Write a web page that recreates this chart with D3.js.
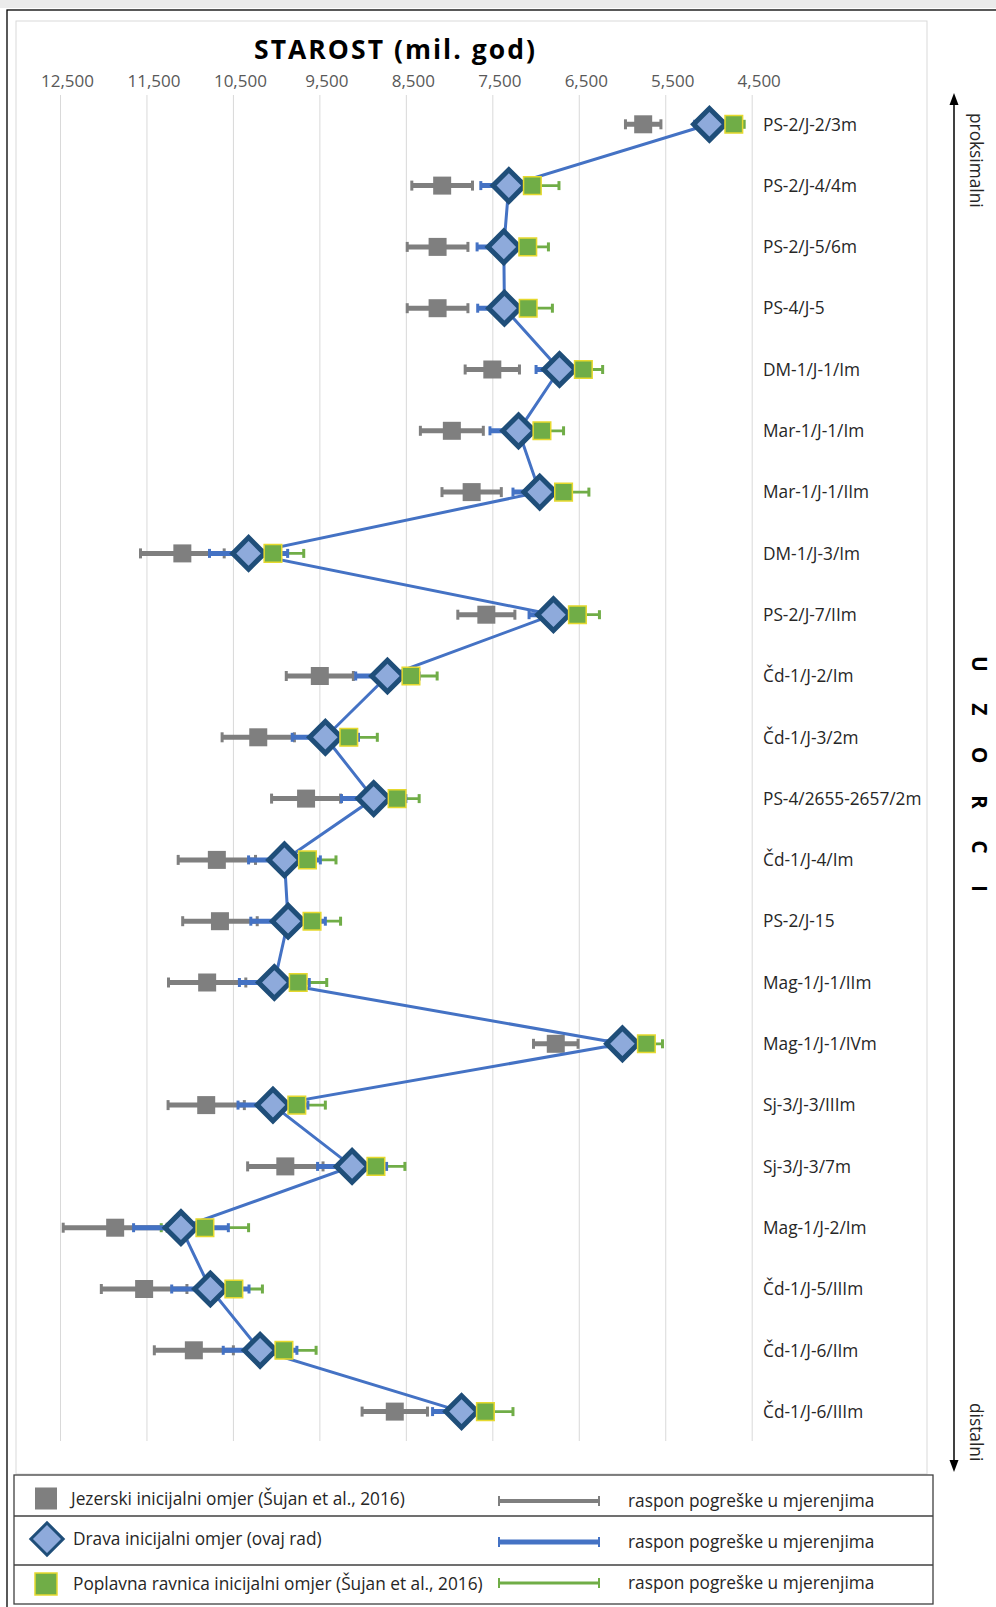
<!DOCTYPE html>
<html><head><meta charset="utf-8">
<script src="https://cdn.jsdelivr.net/npm/d3@7"></script>
<style>
html,body{margin:0;padding:0;background:#fff;}
svg{display:block;font-family:"Open Sans",sans-serif;}
</style></head>
<body>
<script>
// ---------- DATA ----------
const categories = ["PS-2/J-2/3m","PS-2/J-4/4m","PS-2/J-5/6m","PS-4/J-5","DM-1/J-1/Im","Mar-1/J-1/Im","Mar-1/J-1/IIm","DM-1/J-3/Im","PS-2/J-7/IIm","Čd-1/J-2/Im","Čd-1/J-3/2m","PS-4/2655-2657/2m","Čd-1/J-4/Im","PS-2/J-15","Mag-1/J-1/IIm","Mag-1/J-1/IVm","Sj-3/J-3/IIIm","Sj-3/J-3/7m","Mag-1/J-2/Im","Čd-1/J-5/IIIm","Čd-1/J-6/IIm","Čd-1/J-6/IIIm"];
// Jezerski inicijalni omjer (lake)
const lakeAge = [5755,8080,8133,8133,7500,7968,7739,11085,7569,9495,10207,9654,10686,10650,10798,6766,10809,9894,11862,11527,10952,8628];
const lakeErr = [205,351,351,351,314,364,343,484,330,388,418,399,447,431,447,258,441,436,601,495,457,378];
// Drava inicijalni omjer (ovaj rad)
const dravaAge = [4989,7309,7367,7360,6723,7197,6952,10319,6793,8713,9431,8872,9904,9862,10021,5995,10037,9122,11101,10761,10186,7856];
const dravaErr = [170,324,309,309,271,330,309,452,282,367,383,372,415,431,404,180,404,399,548,447,426,335];
// Poplavna ravnica inicijalni omjer (floodplain)
const floodAge = [4707,7037,7090,7085,6447,6926,6676,10037,6516,8441,9160,8601,9638,9585,9745,5718,9761,8846,10824,10489,9910,7580];
const floodErr = [120,308,239,280,223,250,293,356,255,303,330,255,330,330,330,186,330,335,505,330,372,319];
const tickValues = [12500,11500,10500,9500,8500,7500,6500,5500,4500];
const titleText = "STAROST (mil. god)";
const sideTitle = "U Z O R C I";
const topLabel = "proksimalni", bottomLabel = "distalni";
const legendLabels = ["Jezerski inicijalni omjer (Šujan et al., 2016)","Drava inicijalni omjer (ovaj rad)","Poplavna ravnica inicijalni omjer (Šujan et al., 2016)"];
const errLabel = "raspon pogreške u mjerenjima";

// ---------- STYLE ----------
const C = {gray:"#7f7f7f", blue:"#4472c4", dFill:"#8eaadb", dStroke:"#1f4e79", green:"#70ad47", gStroke:"#e6d92e", grid:"#d9d9d9", text:"#262626", tick:"#595959"};
const W = 996, H = 1607;

const svg = d3.select("body").append("svg").attr("width",W).attr("height",H);
svg.append("rect").attr("width",W).attr("height",H).attr("fill","#fff");
svg.append("rect").attr("width",W).attr("height",8).attr("fill","#ebebeb");
// outer frame
svg.append("rect").attr("x",7).attr("y",10).attr("width",1000).attr("height",1600)
  .attr("fill","none").attr("stroke","#000").attr("stroke-width",1.3);
// plot area frame
svg.append("rect").attr("x",16).attr("y",21).attr("width",911).attr("height",1453)
  .attr("fill","none").attr("stroke",C.grid).attr("stroke-width",1);

const x = d3.scaleLinear().domain([12500,4500]).range([60,751.7]);
const y = d3.scalePoint().domain(categories).range([124.3,1411.6]);
const gridTop = 95, gridBottom = 1441;

// axis + gridlines
const ax = svg.append("g").attr("transform",`translate(0,${gridTop})`)
  .call(d3.axisTop(x).tickValues(tickValues).tickFormat(d3.format(",")).tickSize(-(gridBottom-gridTop)));
ax.select(".domain").remove();
ax.selectAll(".tick line").attr("stroke",C.grid).attr("stroke-width",1);
ax.selectAll(".tick text").attr("x",7).attr("y",-8).attr("dy","0")
  .attr("fill",C.tick).style("font-size","17px").style("font-family","Open Sans");

// title
svg.append("text").attr("x",254).attr("y",59).text(titleText)
  .attr("textLength",281).attr("lengthAdjust","spacing")
  .style("font-size","26.5px").style("font-weight","bold").attr("fill","#000");

// row labels
svg.append("g").selectAll("text").data(categories).join("text")
  .attr("x",763).attr("y",d=>y(d)).attr("dy","0.36em").text(d=>d)
  .attr("fill",C.text).style("font-size","17.3px");

const rows = categories.map((c,i)=>({c, lake:lakeAge[i], le:lakeErr[i], drava:dravaAge[i], de:dravaErr[i], flood:floodAge[i], fe:floodErr[i]}));

function errBars(key, ekey, color, w, cap){
  const g = svg.append("g").attr("stroke",color).attr("stroke-width",w);
  g.selectAll("line.b").data(rows).join("line").attr("class","b")
    .attr("x1",d=>x(d[key]-d[ekey])).attr("x2",d=>x(d[key]+d[ekey]))
    .attr("y1",d=>y(d.c)).attr("y2",d=>y(d.c));
  ["-","+"].forEach(s=>{
    g.selectAll("line.c"+(s==="-"?"l":"r")).data(rows).join("line").attr("class","c"+(s==="-"?"l":"r"))
      .attr("x1",d=>x(s==="-"?d[key]-d[ekey]:d[key]+d[ekey]))
      .attr("x2",d=>x(s==="-"?d[key]-d[ekey]:d[key]+d[ekey]))
      .attr("y1",d=>y(d.c)-cap/2).attr("y2",d=>y(d.c)+cap/2).attr("stroke-width",3);
  });
}
errBars("lake","le",C.gray,5,10);
// gray squares
svg.append("g").selectAll("path").data(rows).join("path")
  .attr("transform",d=>`translate(${x(d.lake)},${y(d.c)})`)
  .attr("d",d3.symbol(d3.symbolSquare,324)()).attr("fill",C.gray);
errBars("flood","fe",C.green,2.8,9);
errBars("drava","de",C.blue,5,9);
// connecting line
svg.append("path").datum(rows)
  .attr("d",d3.line().x(d=>x(d.drava)).y(d=>y(d.c)))
  .attr("fill","none").attr("stroke",C.blue).attr("stroke-width",3);
// diamonds
svg.append("g").selectAll("path").data(rows).join("path")
  .attr("transform",d=>`translate(${x(d.drava)},${y(d.c)}) rotate(45)`)
  .attr("d",d3.symbol(d3.symbolSquare,500)()).attr("fill",C.dFill)
  .attr("stroke",C.dStroke).attr("stroke-width",5).attr("stroke-linejoin","miter");
// green squares
svg.append("g").selectAll("path").data(rows).join("path")
  .attr("transform",d=>`translate(${x(d.flood)},${y(d.c)})`)
  .attr("d",d3.symbol(d3.symbolSquare,310)()).attr("fill",C.green)
  .attr("stroke",C.gStroke).attr("stroke-width",1.5);

// right side arrow
const arrowX = 954;
svg.append("line").attr("x1",arrowX).attr("x2",arrowX).attr("y1",100).attr("y2",1464)
  .attr("stroke","#000").attr("stroke-width",1.5);
svg.append("path").attr("d",`M${arrowX},93L${arrowX-4.5},105L${arrowX+4.5},105Z`).attr("fill","#000");
svg.append("path").attr("d",`M${arrowX},1472L${arrowX-4.5},1460L${arrowX+4.5},1460Z`).attr("fill","#000");
svg.append("text").attr("transform","translate(970,113) rotate(90)").text(topLabel)
  .attr("fill",C.text).style("font-size","17.3px");
svg.append("text").attr("transform","translate(970,1403) rotate(90)").text(bottomLabel)
  .attr("fill",C.text).style("font-size","17.3px");
svg.append("text").attr("transform","translate(972,656) rotate(90)").text(sideTitle)
  .attr("textLength",236).attr("lengthAdjust","spacing")
  .attr("fill","#000").style("font-size","21px").style("font-weight","bold");

// ---------- LEGEND ----------
const lg = svg.append("g");
const lRows = [1475,1516,1565,1604];
lg.append("rect").attr("x",14).attr("y",lRows[0]).attr("width",919).attr("height",lRows[3]-lRows[0])
  .attr("fill","#fff").attr("stroke","#404040").attr("stroke-width",1.3);
[lRows[1],lRows[2]].forEach(v=>lg.append("line").attr("x1",14).attr("x2",933).attr("y1",v).attr("y2",v)
  .attr("stroke","#404040").attr("stroke-width",1.3));
const lyc = [1498.5,1539,1584];
lg.append("rect").attr("x",35).attr("y",lyc[0]-11).attr("width",22).attr("height",22).attr("fill",C.gray);
lg.append("path").attr("transform",`translate(47,${lyc[1]}) rotate(45)`)
  .attr("d",d3.symbol(d3.symbolSquare,520)()).attr("fill",C.dFill).attr("stroke",C.dStroke).attr("stroke-width",3);
lg.append("rect").attr("x",35).attr("y",lyc[2]-11).attr("width",22).attr("height",22).attr("fill",C.green)
  .attr("stroke",C.gStroke).attr("stroke-width",1.5);
lg.selectAll("text.lab").data(legendLabels).join("text").attr("class","lab")
  .attr("x",(d,i)=>i===0?71:73).attr("y",(d,i)=>lyc[i]).attr("dy","0.35em").text(d=>d)
  .attr("fill",C.text).style("font-size","17.3px");
const errColors=[C.gray,C.blue,C.green], errW=[4,5,3];
errColors.forEach((col,i)=>{
  const yy = [1501,1542,1583][i];
  lg.append("line").attr("x1",499).attr("x2",599).attr("y1",yy).attr("y2",yy).attr("stroke",col).attr("stroke-width",errW[i]);
  [499,599].forEach(xx=>lg.append("line").attr("x1",xx).attr("x2",xx).attr("y1",yy-5).attr("y2",yy+5).attr("stroke",col).attr("stroke-width",2));
  lg.append("text").attr("x",628).attr("y",yy).attr("dy","0.35em").text(errLabel)
    .attr("fill",C.text).style("font-size","17.3px");
});
</script>
</body></html>
